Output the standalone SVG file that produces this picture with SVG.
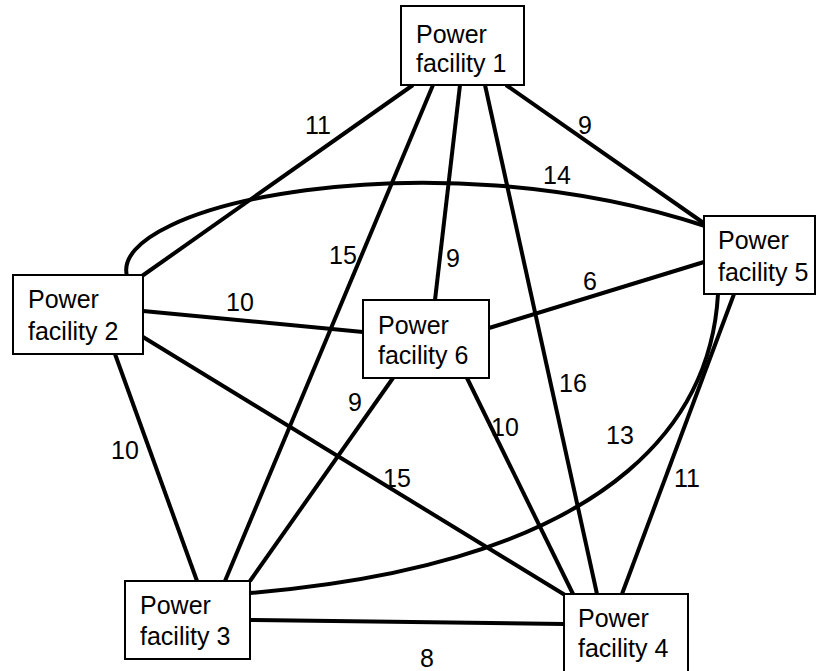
<svg xmlns="http://www.w3.org/2000/svg" width="817" height="671" viewBox="0 0 817 671">
  <style>
    .edge { fill: none; stroke: #000; stroke-width: 4; stroke-linecap: butt; }
    .box { fill: #fff; stroke: #000; stroke-width: 2; }
    text { font-family: "Liberation Sans", Arial, sans-serif; font-size: 25px; fill: #000; }
    .w { text-anchor: middle; }
  </style>
  <rect width="817" height="671" fill="#fff"/>

  <!-- connectors -->
  <g id="edges">
    <line class="edge" x1="413" y1="85" x2="142" y2="276"/>
    <line class="edge" x1="433" y1="85" x2="225" y2="581"/>
    <line class="edge" x1="460" y1="85" x2="435" y2="300"/>
    <line class="edge" x1="485" y1="85" x2="597" y2="594"/>
    <line class="edge" x1="506" y1="85" x2="705" y2="224"/>
    <path class="edge" d="M127,276 C108,205 430,135 705,226"/>
    <line class="edge" x1="143" y1="311" x2="363" y2="332"/>
    <line class="edge" x1="115" y1="354" x2="197" y2="581"/>
    <line class="edge" x1="143" y1="337" x2="565" y2="595"/>
    <line class="edge" x1="489" y1="328" x2="704" y2="262"/>
    <line class="edge" x1="393" y1="378" x2="250" y2="581"/>
    <line class="edge" x1="467" y1="378" x2="573" y2="594"/>
    <path class="edge" d="M718,294 C712,400 640,560 250,593"/>
    <line class="edge" x1="734" y1="294" x2="622" y2="594"/>
    <line class="edge" x1="250" y1="620" x2="564" y2="624"/>
  </g>

  <!-- edge weights -->
  <g id="weights">
    <text class="w" x="318" y="134">11</text>
    <text class="w" x="585" y="134">9</text>
    <text class="w" x="557" y="184">14</text>
    <text class="w" x="343" y="264">15</text>
    <text class="w" x="453" y="267">9</text>
    <text class="w" x="240" y="311">10</text>
    <text class="w" x="590" y="290">6</text>
    <text class="w" x="355" y="411">9</text>
    <text class="w" x="573" y="392">16</text>
    <text class="w" x="505" y="436">10</text>
    <text class="w" x="620" y="444">13</text>
    <text class="w" x="125" y="459">10</text>
    <text class="w" x="397" y="487">15</text>
    <text class="w" x="687" y="487">11</text>
    <text class="w" x="427" y="667">8</text>
  </g>

  <g id="node1">
    <rect class="box" x="401" y="6" width="123" height="79"/>
    <text x="416" y="43">Power</text>
    <text x="416" y="72">facility 1</text>
  </g>
  <g id="node2">
    <rect class="box" x="13" y="275" width="130" height="79"/>
    <text x="28" y="308">Power</text>
    <text x="28" y="340">facility 2</text>
  </g>
  <g id="node3">
    <rect class="box" x="125" y="581" width="125" height="78"/>
    <text x="140" y="614">Power</text>
    <text x="140" y="645">facility 3</text>
  </g>
  <g id="node4">
    <rect class="box" x="564" y="594" width="124" height="80"/>
    <text x="578" y="627">Power</text>
    <text x="578" y="657">facility 4</text>
  </g>
  <g id="node5">
    <rect class="box" x="704" y="216" width="111" height="78"/>
    <text x="718" y="249">Power</text>
    <text x="718" y="281">facility 5</text>
  </g>
  <g id="node6">
    <rect class="box" x="363" y="300" width="126" height="78"/>
    <text x="378" y="334">Power</text>
    <text x="378" y="364">facility 6</text>
  </g>
</svg>
